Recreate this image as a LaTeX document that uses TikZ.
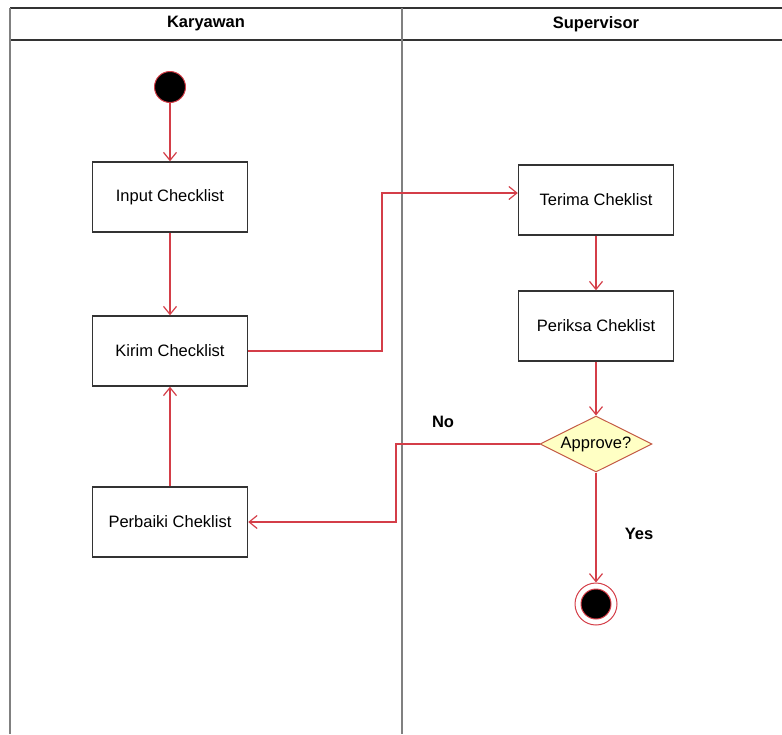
\documentclass[tikz,border=0pt]{standalone}
\usepackage{fontspec}
\setmainfont{Liberation Sans}
\usetikzlibrary{arrows.meta, shapes.geometric}
\definecolor{flowred}{RGB}{212,62,72}
\definecolor{decisionfill}{RGB}{255,255,196}
\definecolor{decisionline}{RGB}{196,92,70}

\begin{document}
\begin{tikzpicture}[
    x=1pt, y=-1pt,
    every node/.style={font=\fontsize{16.5}{19}\selectfont, inner sep=0pt},
    actbox/.style={rectangle, draw=black!80, line width=1.4pt, fill=white, minimum width=155pt, minimum height=70pt},
    startdot/.style={circle, fill=black, draw=flowred, line width=1pt, minimum size=31pt},
    stopring/.style={circle, fill=white, draw=flowred, line width=1pt, minimum size=42pt},
    stopdot/.style={circle, fill=black, draw=flowred, line width=1pt, minimum size=30pt},
    decision/.style={diamond, aspect=2, fill=decisionfill, draw=decisionline, line width=1pt, minimum width=112pt, minimum height=56pt},
    flow/.style={draw=flowred, line width=1.2pt, -{Straight Barb[length=8pt, width=13pt]}},
    lanetitle/.style={font=\fontsize{16.5}{19}\selectfont\bfseries}
]
\useasboundingbox (0,0) rectangle (782,734);

% Swimlanes
\draw[black!80, line width=1.5pt] (10,8) -- (782,8);
\draw[black!80, line width=1.5pt] (10,40) -- (782,40);
\draw[gray, line width=2pt] (10,8) -- (10,734);
\draw[gray, line width=2pt] (402,8) -- (402,734);
\node[lanetitle] (lanekar) at (206,24) {Karyawan};
\node[lanetitle] (lanesup) at (596,24) {Supervisor};

% Karyawan lane
\node[startdot] (start) at (170,87) {};
\node[actbox] (input) at (170,197) {Input Checklist};
\node[actbox] (kirim) at (170,351) {Kirim Checklist};
\node[actbox] (perbaiki) at (170,522) {Perbaiki Cheklist};

% Supervisor lane
\node[actbox] (terima) at (596,200) {Terima Cheklist};
\node[actbox] (periksa) at (596,326) {Periksa Cheklist};
\node[decision] (approve) at (596,444) {Approve?};
\node[stopring] (stop) at (596,604) {};
\node[stopdot] (stopin) at (596,604) {};

% Labels
\node[lanetitle] (nolabel) at (443,422) {No};
\node[lanetitle] (yeslabel) at (639,534) {Yes};

% Arrows
\foreach \i/\j in {start/input, input/kirim, perbaiki/kirim,
                   terima/periksa, periksa/approve, approve/stop}
    \draw[flow] (\i) -- (\j);

% Cross-lane arrows
\draw[flow] (kirim.east) -- (382,351) |- ([yshift=7pt]terima.west);
\draw[flow] (approve.west) -- (396,444) |- (perbaiki.east);

\end{tikzpicture}
\end{document}
